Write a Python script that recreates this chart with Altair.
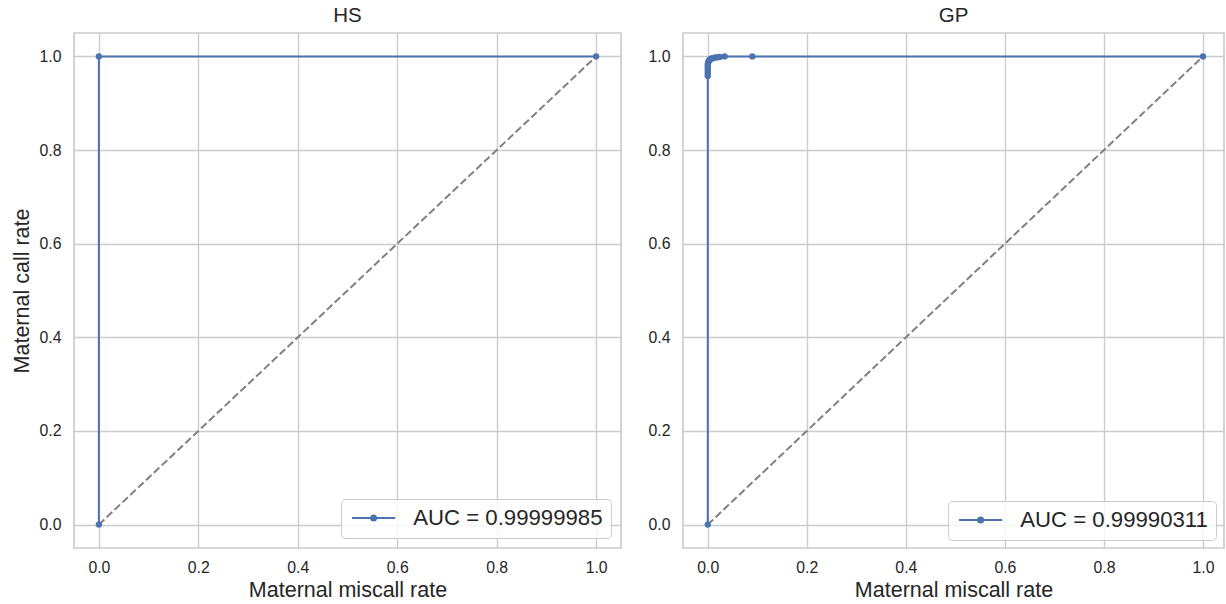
import altair as alt
import pandas as pd

# ---------------- data ----------------
hs_title = "HS"
hs_fpr = [0.0, 0.0, 1.0]
hs_tpr = [0.0, 1.0, 1.0]
hs_label = "AUC = 0.99999985"

gp_title = "GP"
gp_fpr = [0.0, 0.0, 0.0, 0.0, 0.0, 0.0, 0.0, 0.0005, 0.001, 0.002, 0.003,
          0.005, 0.007, 0.01, 0.013, 0.016, 0.02, 0.024, 0.034, 0.09, 1.0]
gp_tpr = [0.0, 0.958, 0.963, 0.968, 0.973, 0.978, 0.982, 0.985, 0.988, 0.99, 0.992,
          0.994, 0.995, 0.996, 0.997, 0.998, 0.998, 0.999, 1.0, 1.0, 1.0]
gp_label = "AUC = 0.99990311"

diag_vals = [0.0, 1.0]
tick_vals = [0.0, 0.2, 0.4, 0.6, 0.8, 1.0]

x_title = "Maternal miscall rate"
y_title = "Maternal call rate"

# ---------------- style ----------------
BLUE = "#4c72b0"
GRAY = "#808080"
FONT = "Liberation Sans"
TXT = "#262626"
GRID = "#cccccc"

# legend glyph: line with a dot in its middle (unit = 9 px)
LEG_PATH = ("M-0.9,0L3.9,0M1.78,0A0.28,0.28,0,1,1,1.22,0"
            "A0.28,0.28,0,1,1,1.78,0Z")


def panel(title, fpr, tpr, label, xdomain, width, show_ytitle, leg_offset):
    df = pd.DataFrame({"fpr": fpr, "tpr": tpr,
                       "order": list(range(len(fpr))), "label": label})
    ddf = pd.DataFrame({"x": diag_vals, "y": diag_vals})
    xsc = alt.Scale(domain=xdomain, nice=False, zero=False)
    ysc = alt.Scale(domain=[-0.05, 1.05], nice=False, zero=False)
    xax = alt.Axis(values=tick_vals, format=".1f", title=x_title)
    if show_ytitle:
        yax = alt.Axis(values=tick_vals, format=".1f", title=y_title)
    else:
        yax = alt.Axis(values=tick_vals, format=".1f", title="")

    diag = alt.Chart(ddf).mark_line(
        color=GRAY, strokeDash=[7.5, 3.3], strokeWidth=2
    ).encode(
        x=alt.X("x:Q", scale=xsc, axis=xax),
        y=alt.Y("y:Q", scale=ysc, axis=yax),
    )

    roc = alt.Chart(df).mark_line(
        strokeWidth=2,
        point=alt.OverlayMarkDef(size=40, filled=True, opacity=1),
    ).encode(
        x=alt.X("fpr:Q", scale=xsc, axis=xax),
        y=alt.Y("tpr:Q", scale=ysc, axis=yax),
        order=alt.Order("order:Q"),
        color=alt.Color(
            "label:N",
            scale=alt.Scale(domain=[label], range=[BLUE]),
            legend=alt.Legend(
                title=None,
                orient="bottom-right",
                offset=leg_offset,
                padding=8,
                fillColor="rgba(255,255,255,0.8)",
                strokeColor=GRID,
                cornerRadius=4,
                symbolType=LEG_PATH,
                symbolSize=324,
                symbolStrokeWidth=2,
                symbolStrokeColor=BLUE,
                symbolFillColor=BLUE,
                symbolOpacity=1,
                labelFont=FONT,
                labelFontSize=22.2,
                labelColor=TXT,
                labelOffset=42,
                labelLimit=500,
            ),
        ),
    )

    return alt.layer(diag, roc).properties(
        width=width, height=515,
        title=alt.TitleParams(title, fontSize=20.5, font=FONT, color=TXT,
                              fontWeight="normal", offset=7),
    )


left = panel(hs_title, hs_fpr, hs_tpr, hs_label, [-0.05, 1.05], 547, True, 10)
right = panel(gp_title, gp_fpr, gp_tpr, gp_label, [-0.05, 1.0424], 541, False, 8)

chart = alt.hconcat(left, right, spacing=25).resolve_scale(
    color="independent", x="independent", y="independent"
).resolve_legend(color="independent").properties(
    padding={"left": 10, "top": 4, "right": 0, "bottom": 0},
    background="white",
).configure_view(
    stroke=GRID, strokeWidth=1.7
).configure_axis(
    labelFont=FONT, labelFontSize=15.8, labelColor=TXT,
    titleFont=FONT, titleFontSize=21.5, titleColor=TXT, titleFontWeight="normal",
    grid=True, gridColor=GRID, gridWidth=1.4,
    ticks=False, tickSize=0, domain=False,
).configure_axisX(
    labelPadding=12, titlePadding=5,
).configure_axisY(
    labelPadding=13, titlePadding=6,
)

chart.save("out.html", embed_options={"renderer": "svg", "actions": False})
